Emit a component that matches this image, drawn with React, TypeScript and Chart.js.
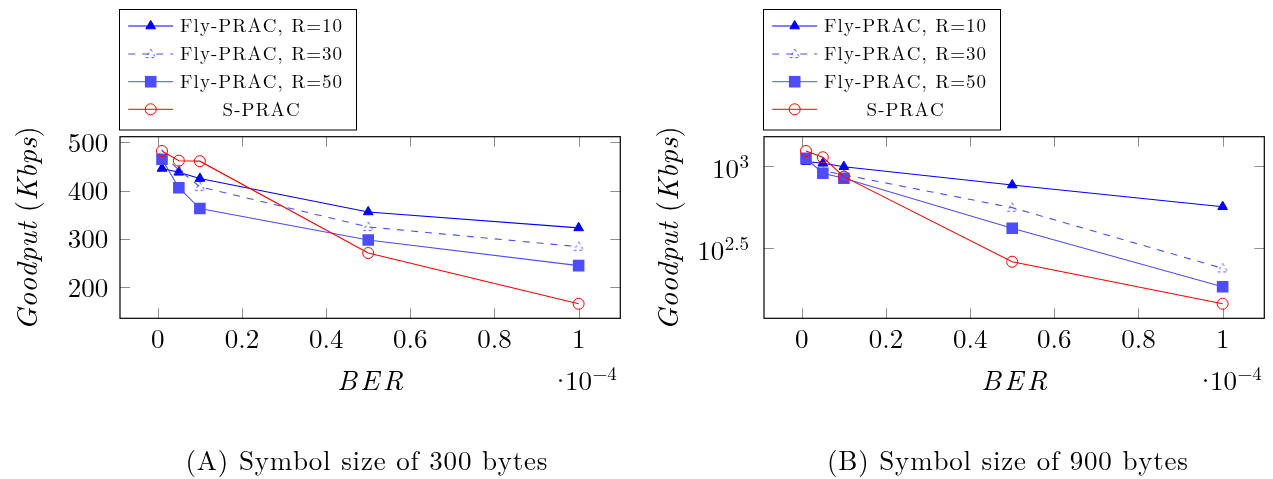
import React, { useEffect, useRef } from 'react';
import { Chart, registerables } from 'chart.js';

Chart.register(...registerables);

// ---------------- data ----------------
const BER = [0.01, 0.05, 0.1, 0.5, 1];

const A_R10 = [446, 438, 425, 356, 323];
const A_R30 = [475, 443, 408, 325, 284];
const A_R50 = [465, 406, 363, 298, 245];
const A_SPRAC = [482, 462, 461, 271, 166];

const B_R10 = [1060, 1034, 986, 763, 563];
const B_R30 = [1090, 930, 880, 556, 238];
const B_R50 = [1109, 899, 838, 417, 184];
const B_SPRAC = [1228, 1125, 858, 261, 145];

const SERIES_NAMES = ['Fly-PRAC, R=10', 'Fly-PRAC, R=30', 'Fly-PRAC, R=50', 'S-PRAC'];

const X_TICKS = [0, 0.2, 0.4, 0.6, 0.8, 1];
const X_TICK_LABELS = ['0', '0.2', '0.4', '0.6', '0.8', '1'];

const A_Y_TICKS = [200, 300, 400, 500];
const A_Y_TICK_LABELS = ['200', '300', '400', '500'];

const B_Y_TICKS = [1000, 316.2278];
const B_Y_TICK_BASES = ['10', '10'];
const B_Y_TICK_EXPS = ['3', '2.5'];

const X_AXIS_TITLE = 'BER';
const X_MULTIPLIER_DOT = '\u00B7';
const X_MULTIPLIER_BASE = '10';
const X_MULTIPLIER_EXP = '\u22124';
const Y_AXIS_TITLE_PARTS = [
  ['Goodput', 'italic'],
  [' (', 'normal'],
  ['Kbps', 'italic'],
  [')', 'normal'],
];
const CAPTIONS = ['(A) Symbol size of 300 bytes', '(B) Symbol size of 900 bytes'];

// ---------------- styles ----------------
const LM = '"Latin Modern Roman"';
const BLUE = 'rgb(0,0,255)';
const BLUE70 = 'rgb(77,77,255)';
const RED = 'rgb(255,0,0)';
const TICK_COLOR = '#8f8f8f';
const TRI_R = 5.6;
const SQ_R = 8.2;
const CIRC_R = 5.5;

type Panel = {
  key: string;
  left: number;
  width: number;
  area: { l: number; r: number; t: number; b: number };
  xMin: number;
  xMax: number;
  yType: 'linear' | 'logarithmic';
  yMin: number;
  yMax: number;
  legend: { x: number; y: number; w: number; h: number };
  caption: string;
  captionCenter: number;
  captionWidth: number;
  yTitleX: number;
  multRight: number;
  series: number[][];
};

const PANELS: Panel[] = [
  {
    key: 'A',
    left: 0,
    width: 640,
    area: { l: 120, r: 620.3, t: 136.7, b: 318.3 },
    xMin: -0.0898,
    xMax: 1.099,
    yType: 'linear',
    yMin: 136,
    yMax: 511.6,
    legend: { x: 119.5, y: 9.5, w: 237, h: 120.5 },
    caption: CAPTIONS[0],
    captionCenter: 366.5,
    captionWidth: 362,
    yTitleX: 36.7,
    multRight: 616.7,
    series: [A_R10, A_R30, A_R50, A_SPRAC],
  },
  {
    key: 'B',
    left: 640,
    width: 633,
    area: { l: 764, r: 1264.3, t: 136.7, b: 318.3 },
    xMin: -0.0898,
    xMax: 1.099,
    yType: 'logarithmic',
    yMin: 118.3,
    yMax: 1499.7,
    legend: { x: 763.5, y: 9.5, w: 237, h: 120.5 },
    caption: CAPTIONS[1],
    captionCenter: 1007.5,
    captionWidth: 361,
    yTitleX: 678.3,
    multRight: 1261.7,
    series: [B_R10, B_R30, B_R50, B_SPRAC],
  },
];

// ---------------- helpers ----------------
// draws text char by char so that its total width equals target
function fitText(
  ctx: CanvasRenderingContext2D,
  text: string,
  x: number,
  y: number,
  target: number,
  align: 'left' | 'center' | 'right'
) {
  const chars = Array.from(text);
  const ws = chars.map((c) => ctx.measureText(c).width);
  const w0 = ws.reduce((a, b) => a + b, 0);
  const n = chars.length;
  const ls = n > 1 ? (target - w0) / (n - 1) : 0;
  const vis = w0 + (n - 1) * ls;
  let cx = align === 'left' ? x : align === 'center' ? x - vis / 2 : x - vis;
  ctx.textAlign = 'left';
  chars.forEach((c, i) => {
    ctx.fillText(c, cx, y);
    cx += ws[i] + ls;
  });
}

function trianglePath(ctx: CanvasRenderingContext2D, x: number, y: number, r: number) {
  ctx.beginPath();
  for (let k = 0; k < 3; k++) {
    const a = (k * 2 * Math.PI) / 3;
    const px = x + Math.sin(a) * r;
    const py = y - Math.cos(a) * r;
    if (k === 0) ctx.moveTo(px, py);
    else ctx.lineTo(px, py);
  }
  ctx.closePath();
}

function makeDashedTriangle(color: string): HTMLCanvasElement {
  const c = document.createElement('canvas');
  c.width = 16;
  c.height = 16;
  const g = c.getContext('2d')!;
  g.strokeStyle = color;
  g.lineWidth = 1;
  g.setLineDash([2.8, 2.8]);
  trianglePath(g, 8, 8.8, 5.6);
  g.stroke();
  return c;
}

function drawPanelOverlayBack(chart: any, p: Panel) {
  const ctx: CanvasRenderingContext2D = chart.ctx;
  const xs = chart.scales.x;
  const ys = chart.scales.y;
  const off = p.left;
  const ca = chart.chartArea;
  const L = ca.left + off, R = ca.right + off, T = ca.top, B = ca.bottom;
  ctx.save();
  ctx.translate(-off, 0);
  ctx.strokeStyle = TICK_COLOR;
  ctx.lineWidth = 1;
  const tl = 10;
  ctx.beginPath();
  X_TICKS.forEach((v) => {
    const x = Math.round(xs.getPixelForValue(v) + off) + 0.5;
    ctx.moveTo(x, B);
    ctx.lineTo(x, B - tl);
    ctx.moveTo(x, T);
    ctx.lineTo(x, T + tl);
  });
  const yt = p.yType === 'linear' ? A_Y_TICKS : B_Y_TICKS;
  yt.forEach((v) => {
    const y = Math.round(ys.getPixelForValue(v)) + 0.5;
    ctx.moveTo(L, y);
    ctx.lineTo(L + tl, y);
    ctx.moveTo(R, y);
    ctx.lineTo(R - tl, y);
  });
  ctx.stroke();
  ctx.restore();
}

function drawLegendMarker(ctx: CanvasRenderingContext2D, i: number, x: number, y: number, dashedTri: HTMLCanvasElement) {
  ctx.save();
  ctx.setLineDash([]);
  if (i === 0) {
    trianglePath(ctx, x, y, TRI_R);
    ctx.fillStyle = BLUE;
    ctx.strokeStyle = BLUE;
    ctx.lineWidth = 1;
    ctx.fill();
    ctx.stroke();
  } else if (i === 1) {
    ctx.drawImage(dashedTri, x - dashedTri.width / 2, y - dashedTri.height / 2);
  } else if (i === 2) {
    const s = SQ_R * Math.SQRT1_2;
    ctx.fillStyle = BLUE70;
    ctx.fillRect(x - s, y - s, 2 * s, 2 * s);
  } else {
    ctx.beginPath();
    ctx.arc(x, y, CIRC_R, 0, Math.PI * 2);
    ctx.strokeStyle = RED;
    ctx.lineWidth = 1;
    ctx.stroke();
  }
  ctx.restore();
}

function drawPanelOverlayFront(chart: any, p: Panel, dashedTri: HTMLCanvasElement) {
  const ctx: CanvasRenderingContext2D = chart.ctx;
  const xs = chart.scales.x;
  const ys = chart.scales.y;
  const off = p.left;
  const ca = chart.chartArea;
  const L = ca.left + off, R = ca.right + off, T = ca.top, B = ca.bottom;
  ctx.save();
  ctx.translate(-off, 0);

  // frame
  ctx.strokeStyle = '#000';
  ctx.lineWidth = 1.2;
  ctx.strokeRect(L, T, R - L, B - T);

  ctx.fillStyle = '#000';
  ctx.textBaseline = 'alphabetic';

  // x tick labels
  ctx.font = `27px ${LM}`;
  ctx.textAlign = 'center';
  X_TICKS.forEach((v, i) => {
    const x = xs.getPixelForValue(v) + off;
    ctx.fillText(X_TICK_LABELS[i], x, B + 29.3);
  });

  // y tick labels
  if (p.yType === 'linear') {
    ctx.font = `27px ${LM}`;
    ctx.textAlign = 'right';
    A_Y_TICKS.forEach((v, i) => {
      const y = ys.getPixelForValue(v);
      ctx.fillText(A_Y_TICK_LABELS[i], L - 11.7, y + 9.2);
    });
  } else {
    B_Y_TICKS.forEach((v, i) => {
      const y = ys.getPixelForValue(v);
      const rightEnd = L - 15;
      ctx.font = `19px ${LM}`;
      const ew = ctx.measureText(B_Y_TICK_EXPS[i]).width;
      ctx.textAlign = 'right';
      ctx.fillText(B_Y_TICK_EXPS[i], rightEnd, y + 2.2);
      ctx.font = `27px ${LM}`;
      ctx.fillText(B_Y_TICK_BASES[i], rightEnd - ew - 0.5, y + 12.4);
    });
  }

  // x axis title
  ctx.font = `italic 28px ${LM}`;
  fitText(ctx, X_AXIS_TITLE, (L + R) / 2, 390, 66, 'center');

  // multiplier  ·10^-4
  ctx.font = `19px ${LM}`;
  const supW = ctx.measureText(X_MULTIPLIER_EXP).width;
  ctx.textAlign = 'right';
  ctx.fillText(X_MULTIPLIER_EXP, p.multRight, 379.5);
  ctx.font = `27px ${LM}`;
  const baseRight = p.multRight - supW - 0.5;
  ctx.fillText(X_MULTIPLIER_BASE, baseRight, 390);
  const baseW = ctx.measureText(X_MULTIPLIER_BASE).width;
  ctx.textAlign = 'center';
  ctx.fillText(X_MULTIPLIER_DOT, baseRight - baseW - 4.5, 390);

  // y axis title (rotated)
  ctx.save();
  ctx.translate(p.yTitleX, 228.3);
  ctx.rotate(-Math.PI / 2);
  const target = 204;
  const glyphs: { c: string; font: string; w: number }[] = [];
  Y_AXIS_TITLE_PARTS.forEach(([t, st]) => {
    const font = `${st === 'italic' ? 'italic ' : ''}29px ${LM}`;
    ctx.font = font;
    Array.from(t).forEach((c) => glyphs.push({ c, font, w: ctx.measureText(c).width }));
  });
  const W0 = glyphs.reduce((a, g) => a + g.w, 0);
  const ls = (target - W0) / (glyphs.length - 1);
  let cx = -target / 2;
  ctx.textAlign = 'left';
  glyphs.forEach((g) => {
    ctx.font = g.font;
    ctx.fillText(g.c, cx, 0);
    cx += g.w + ls;
  });
  ctx.restore();

  // legend
  const lg = p.legend;
  ctx.fillStyle = '#fff';
  ctx.fillRect(lg.x, lg.y, lg.w, lg.h);
  ctx.strokeStyle = '#000';
  ctx.lineWidth = 1;
  ctx.strokeRect(lg.x, lg.y, lg.w, lg.h);
  const rows = [16.5, 44.5, 72.2, 99.8];
  SERIES_NAMES.forEach((name, i) => {
    const ry = lg.y + rows[i];
    const x0 = lg.x + 8.7;
    const x1 = lg.x + 53.7;
    ctx.save();
    ctx.beginPath();
    ctx.strokeStyle = i === 0 ? BLUE : i === 3 ? RED : BLUE70;
    ctx.lineWidth = 1;
    ctx.setLineDash(i === 1 ? [7, 7] : []);
    ctx.moveTo(x0, ry);
    ctx.lineTo(x1, ry);
    ctx.stroke();
    ctx.restore();
    drawLegendMarker(ctx, i, lg.x + 31.2, ry, dashedTri);
    ctx.fillStyle = '#000';
    ctx.font = `19px ${LM}`;
    fitText(ctx, name, lg.x + 141.6, ry + 6.4, name === 'S-PRAC' ? 77 : 162, 'center');
  });

  // caption
  ctx.fillStyle = '#000';
  ctx.font = `27px ${LM}`;
  fitText(ctx, p.caption, p.captionCenter, 470, p.captionWidth, 'center');

  ctx.restore();
}

function buildChart(canvas: HTMLCanvasElement, p: Panel, dashedTri: HTMLCanvasElement) {
  const pts = (vals: number[]) => BER.map((x, i) => ({ x, y: vals[i] }));
  const areaL = p.area.l - p.left;
  const areaR = p.area.r - p.left;
  const datasets: any[] = [
    {
      label: SERIES_NAMES[0],
      data: pts(p.series[0]),
      borderColor: BLUE,
      borderWidth: 1.1,
      pointStyle: 'triangle',
      pointRadius: TRI_R,
      pointBackgroundColor: BLUE,
      pointBorderColor: BLUE,
      pointBorderWidth: 1,
      order: 4,
    },
    {
      label: SERIES_NAMES[1],
      data: pts(p.series[1]),
      borderColor: BLUE70,
      borderWidth: 1.1,
      borderDash: [7, 7],
      pointStyle: dashedTri,
      pointRadius: 5.6,
      order: 3,
    },
    {
      label: SERIES_NAMES[2],
      data: pts(p.series[2]),
      borderColor: BLUE70,
      borderWidth: 1.1,
      pointStyle: 'rect',
      pointRadius: SQ_R,
      pointBackgroundColor: BLUE70,
      pointBorderColor: BLUE70,
      pointBorderWidth: 0,
      order: 2,
    },
    {
      label: SERIES_NAMES[3],
      data: pts(p.series[3]),
      borderColor: RED,
      borderWidth: 1.1,
      pointStyle: 'circle',
      pointRadius: CIRC_R,
      pointBackgroundColor: 'rgba(0,0,0,0)',
      pointBorderColor: RED,
      pointBorderWidth: 1,
      order: 1,
    },
  ];
  return new Chart(canvas, {
    type: 'line',
    data: { datasets },
    options: {
      animation: false,
      responsive: false,
      maintainAspectRatio: false,
      devicePixelRatio: 1,
      layout: {
        padding: {
          left: areaL,
          right: p.width - areaR,
          top: p.area.t,
          bottom: 479 - p.area.b,
        },
      },
      elements: { line: { tension: 0, fill: false } },
      plugins: {
        legend: { display: false },
        tooltip: { enabled: false },
        title: { display: false },
      },
      scales: {
        x: { type: 'linear', min: p.xMin, max: p.xMax, display: false },
        y: { type: p.yType, min: p.yMin, max: p.yMax, display: false },
      },
    } as any,
    plugins: [
      {
        id: 'overlay' + p.key,
        beforeDatasetsDraw(chart: any) {
          drawPanelOverlayBack(chart, p);
        },
        afterDraw(chart: any) {
          drawPanelOverlayFront(chart, p, dashedTri);
        },
      },
    ],
  });
}

export default function App() {
  const refA = useRef<HTMLCanvasElement>(null);
  const refB = useRef<HTMLCanvasElement>(null);

  useEffect(() => {
    const dashedTri = makeDashedTriangle(BLUE70);
    const charts: Chart[] = [];
    if (refA.current) charts.push(buildChart(refA.current, PANELS[0], dashedTri));
    if (refB.current) charts.push(buildChart(refB.current, PANELS[1], dashedTri));
    let alive = true;
    const fonts: any = (document as any).fonts;
    if (fonts && fonts.load) {
      Promise.all([fonts.load(`27px ${LM}`), fonts.load(`italic 27px ${LM}`)])
        .then(() => {
          if (alive) charts.forEach((c) => c.draw());
        })
        .catch(() => {});
    }
    return () => {
      alive = false;
      charts.forEach((c) => c.destroy());
    };
  }, []);

  return (
    <div style={{ position: 'absolute', left: 0, top: 0, width: 1273, height: 479, background: '#fff' }}>
      <canvas
        ref={refA}
        width={PANELS[0].width}
        height={479}
        style={{ position: 'absolute', left: PANELS[0].left, top: 0, width: PANELS[0].width, height: 479 }}
      />
      <canvas
        ref={refB}
        width={PANELS[1].width}
        height={479}
        style={{ position: 'absolute', left: PANELS[1].left, top: 0, width: PANELS[1].width, height: 479 }}
      />
    </div>
  );
}
